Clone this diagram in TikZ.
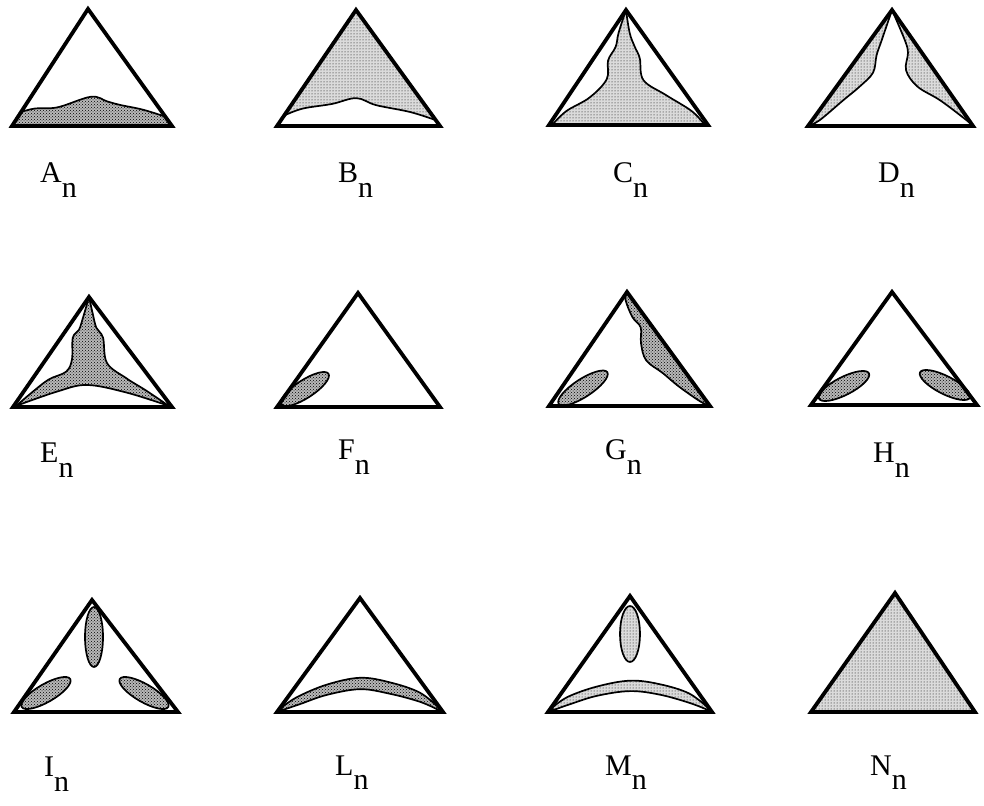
\documentclass[tikz,border=0pt]{standalone}
\usepackage{fontspec}
\setmainfont{Liberation Serif}
\usetikzlibrary{patterns}
\tikzset{
  frame/.style={line width=3.8pt, line join=miter},
  edge/.style={line width=1.7pt, line join=round},
  dense/.style={preaction={fill=black!28}, pattern=crosshatch dots, pattern color=black},
  light/.style={preaction={fill=black!14}, pattern=dots, pattern color=black},
  lab/.style={anchor=base west, inner sep=0pt, font=\fontsize{30}{30}\selectfont},
  tri/.style n args={5}{shift={(#1pt,#2pt)}, x={(#3pt,0pt)}, y={(#4pt,#5pt)}},
  sm/.style={smooth, tension=0.6},
}
\newcommand\sub[1]{\raisebox{-15pt}{#1}}
\begin{document}
\begin{tikzpicture}[x=1pt,y=1pt]
\useasboundingbox (0,0) rectangle (984,805);

% ---------- A ----------
\begin{scope}[tri={12}{679}{160}{-4}{117}]
  \path[dense] (0.02,0) -- plot[sm] coordinates {(0.06,0.12) (0.15,0.15) (0.29,0.16) (0.5,0.25) (0.6,0.21) (0.68,0.18) (0.82,0.14) (0.96,0.08)} -- (0.98,0) -- cycle;
  \draw[edge] plot[sm] coordinates {(0.06,0.12) (0.15,0.15) (0.29,0.16) (0.5,0.25) (0.6,0.21) (0.68,0.18) (0.82,0.14) (0.96,0.08)};
  \draw[frame] (0,0) -- (1,0) -- (0.5,1) -- cycle;
\end{scope}
% ---------- B ----------
\begin{scope}[tri={277}{679}{163}{-2.5}{116}]
  \path[light] (0.5,1) -- plot[sm] coordinates {(0.045,0.09) (0.16,0.15) (0.34,0.19) (0.49,0.24) (0.61,0.18) (0.82,0.12) (0.975,0.05)} -- cycle;
  \draw[edge] plot[sm] coordinates {(0.045,0.09) (0.16,0.15) (0.34,0.19) (0.49,0.24) (0.61,0.18) (0.82,0.12) (0.975,0.05)};
  \draw[frame] (0,0) -- (1,0) -- (0.5,1) -- cycle;
\end{scope}
% ---------- C ----------
\begin{scope}[tri={549}{680}{159}{-2.5}{115}]
  \draw[edge, light] plot[sm] coordinates {(0.5,1) (0.45,0.8) (0.43,0.68) (0.38,0.56) (0.37,0.40) (0.26,0.24) (0.11,0.12) (0.02,0)}
     -- plot[sm] coordinates {(0.98,0) (0.9,0.12) (0.74,0.26) (0.6,0.39) (0.58,0.58) (0.55,0.68) (0.52,0.8) (0.5,1)} -- cycle;
  \draw[frame] (0,0) -- (1,0) -- (0.5,1) -- cycle;
\end{scope}
% ---------- D ----------
\begin{scope}[tri={808}{679}{165}{1.5}{116}]
  \draw[edge, light] (0.5,1) -- (0,0) -- plot[sm] coordinates {(0,0) (0.07,0.05) (0.21,0.22) (0.31,0.34) (0.39,0.46) (0.41,0.61) (0.44,0.74) (0.5,1)} -- cycle;
  \draw[edge, light] (0.5,1) -- (1,0) -- plot[sm] coordinates {(1,0) (0.96,0.05) (0.8,0.22) (0.66,0.34) (0.59,0.48) (0.6,0.63) (0.58,0.74) (0.5,1)} -- cycle;
  \draw[frame] (0,0) -- (1,0) -- (0.5,1) -- cycle;
\end{scope}

% ---------- E ----------
\begin{scope}[tri={13}{398}{159}{-3.5}{110}]
  \draw[edge, dense] plot[sm] coordinates {(0.5,1) (0.46,0.82) (0.43,0.70) (0.39,0.63) (0.38,0.43) (0.34,0.32) (0.23,0.25) (0.12,0.13) (0.02,0.01)}
     -- plot[sm] coordinates {(0.02,0.01) (0.28,0.14) (0.47,0.2) (0.72,0.13) (0.98,0.01)}
     -- plot[sm] coordinates {(0.98,0.01) (0.84,0.15) (0.72,0.26) (0.6,0.4) (0.58,0.63) (0.54,0.72) (0.52,0.85) (0.5,1)} -- cycle;
  \draw[frame] (0,0) -- (1,0) -- (0.5,1) -- cycle;
\end{scope}
% ---------- F ----------
\draw[edge, dense, rotate around={33:(305,416)}] (305,416) ellipse [x radius=28, y radius=9];
\begin{scope}[tri={277}{398}{163}{-0.5}{114}]
  \draw[frame] (0,0) -- (1,0) -- (0.5,1) -- cycle;
\end{scope}
% ---------- G ----------
\draw[edge, dense, rotate around={33:(583,417)}] (583,417) ellipse [x radius=29, y radius=9];
\begin{scope}[tri={549}{399}{161}{-2.5}{114}]
  \draw[edge, dense] (0.5,1) -- (1,0) -- plot[sm] coordinates {(1,0) (0.94,0.04) (0.81,0.17) (0.71,0.29) (0.61,0.40) (0.58,0.55) (0.58,0.69) (0.53,0.78) (0.49,0.93) (0.5,1)} -- cycle;
  \draw[frame] (0,0) -- (1,0) -- (0.5,1) -- cycle;
\end{scope}
% ---------- H ----------
\draw[edge, dense, rotate around={27:(844,419)}] (844,419) ellipse [x radius=28, y radius=9];
\draw[edge, dense, rotate around={-27:(945,420)}] (945,420) ellipse [x radius=28, y radius=9];
\begin{scope}[tri={811}{400}{166}{-2}{113}]
  \draw[frame] (0,0) -- (1,0) -- (0.5,1) -- cycle;
\end{scope}

% ---------- I ----------
\draw[edge, dense] (94,168) ellipse [x radius=9, y radius=30];
\draw[edge, dense, rotate around={30:(46,112)}] (46,112) ellipse [x radius=28, y radius=9];
\draw[edge, dense, rotate around={-30:(144,112)}] (144,112) ellipse [x radius=28, y radius=9];
\begin{scope}[tri={14}{93}{164}{-4}{112}]
  \draw[frame] (0,0) -- (1,0) -- (0.5,1) -- cycle;
\end{scope}
% ---------- L ----------
\begin{scope}[tri={277}{93}{166}{0}{114}]
  \draw[edge, dense] plot[sm] coordinates {(0.02,0.03) (0.12,0.13) (0.3,0.24) (0.5,0.3) (0.68,0.26) (0.86,0.17) (0.98,0.03)}
     -- plot[sm] coordinates {(0.97,0.02) (0.86,0.09) (0.68,0.16) (0.5,0.2) (0.3,0.15) (0.14,0.07) (0.04,0.02)} -- cycle;
  \draw[frame] (0,0) -- (1,0) -- (0.5,1) -- cycle;
\end{scope}
% ---------- M ----------
\draw[edge, light] (630,171) ellipse [x radius=10, y radius=28];
\begin{scope}[tri={548}{93}{164}{0}{116}]
  \draw[edge, light] plot[sm] coordinates {(0.02,0.03) (0.12,0.13) (0.3,0.22) (0.5,0.27) (0.68,0.24) (0.86,0.16) (0.98,0.03)}
     -- plot[sm] coordinates {(0.97,0.02) (0.86,0.08) (0.68,0.15) (0.5,0.18) (0.3,0.14) (0.14,0.07) (0.04,0.02)} -- cycle;
  \draw[frame] (0,0) -- (1,0) -- (0.5,1) -- cycle;
\end{scope}
% ---------- N ----------
\begin{scope}[tri={811}{93}{164}{2}{119}]
  \draw[frame, light] (0,0) -- (1,0) -- (0.5,1) -- cycle;
\end{scope}

% ---------- labels ----------
\node[lab] (lA) at (40,622) {A\sub{n}};
\node[lab] (lB) at (338,622) {B\sub{n}};
\node[lab] (lC) at (613,622) {C\sub{n}};
\node[lab] (lD) at (878,622) {D\sub{n}};
\node[lab] (lE) at (40,342) {E\sub{n}};
\node[lab] (lF) at (338,345) {F\sub{n}};
\node[lab] (lG) at (605,345) {G\sub{n}};
\node[lab] (lH) at (873,342) {H\sub{n}};
\node[lab] (lI) at (44,28) {I\sub{n}};
\node[lab] (lL) at (335,30) {L\sub{n}};
\node[lab] (lM) at (605,30) {M\sub{n}};
\node[lab] (lN) at (870,30) {N\sub{n}};
\end{tikzpicture}
\end{document}
